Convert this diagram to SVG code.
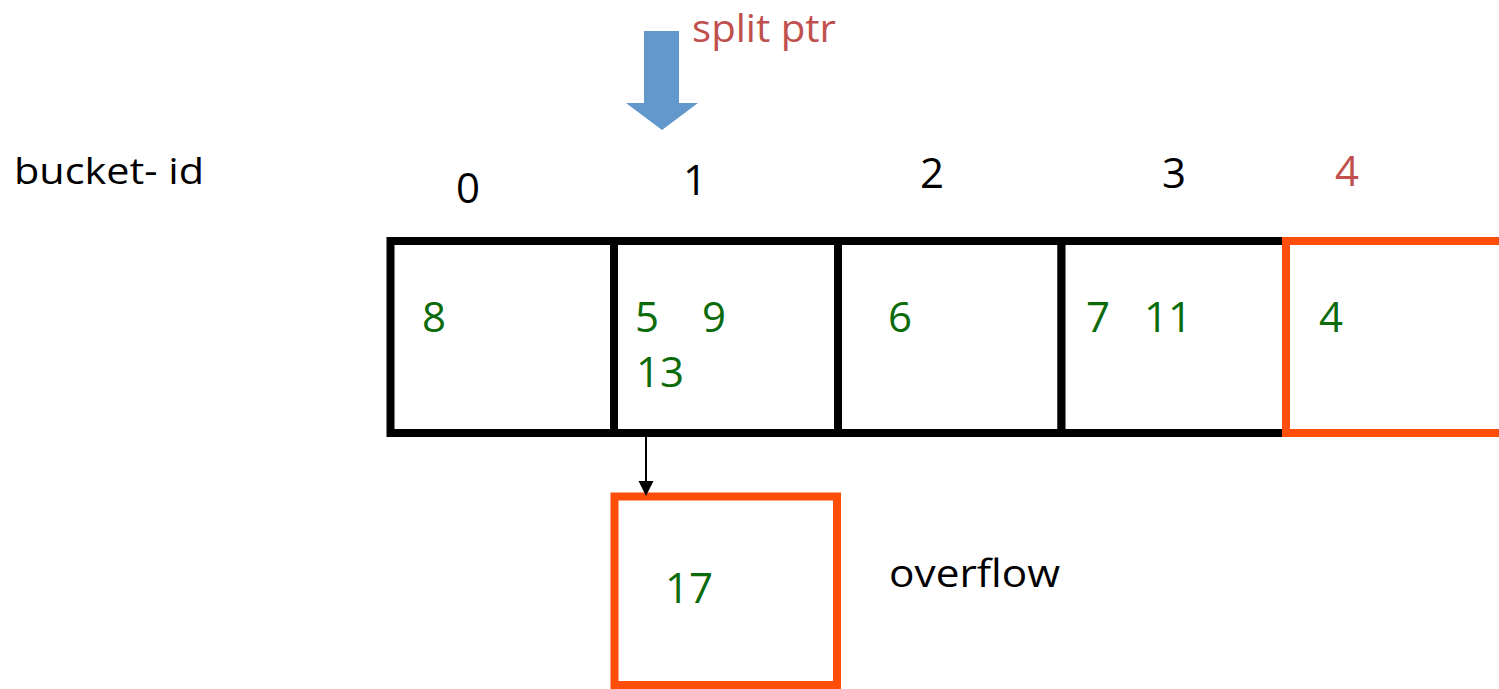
<svg xmlns="http://www.w3.org/2000/svg" width="1499" height="689" viewBox="0 0 1499 689">
<style>
.t{font-family:"Open Sans","Liberation Sans",sans-serif}
.lbl{font-size:42px;fill:#000}
.num{font-size:42px;fill:#0B6B0B}
.cell{fill:#fff;stroke:#000;stroke-width:8}
.ocell{fill:none;stroke:#FF4E0A;stroke-width:8}
</style>
<rect width="1499" height="689" fill="#fff"/>
<g id="split-ptr">
<polygon points="644,31 679,31 679,103 698,103 662,130 626,103 644,103" fill="#6398CC"/>
<text class="t" x="692" y="42" font-size="38" fill="#C0504D" textLength="144" lengthAdjust="spacingAndGlyphs">split ptr</text>
</g>
<g id="bucket-id-label">
<text class="t" x="14" y="184" font-size="36" fill="#000" textLength="190" lengthAdjust="spacingAndGlyphs">bucket- id</text>
</g>
<g id="bucket-0">
<rect class="cell" x="390.5" y="241" width="223.5" height="192"/>
<text class="t lbl" x="456" y="203">0</text>
<text class="t num" x="422" y="332">8</text>
</g>
<g id="bucket-1">
<rect class="cell" x="614" y="241" width="224" height="192"/>
<text class="t lbl" x="683" y="195">1</text>
<text class="t num" x="635" y="332">5</text>
<text class="t num" x="702" y="332">9</text>
<text class="t num" x="636" y="387">13</text>
</g>
<g id="bucket-2">
<rect class="cell" x="838" y="241" width="223.5" height="192"/>
<text class="t lbl" x="920" y="188">2</text>
<text class="t num" x="888" y="332">6</text>
</g>
<g id="bucket-3">
<rect class="cell" x="1061.5" y="241" width="224.5" height="192"/>
<text class="t lbl" x="1162" y="188">3</text>
<text class="t num" x="1086" y="332">7</text>
<text class="t num" x="1144" y="332">11</text>
</g>
<g id="bucket-4">
<rect class="ocell" x="1286" y="241" width="240" height="192"/>
<text class="t lbl" x="1335" y="186" style="fill:#C0504D">4</text>
<text class="t num" x="1319" y="332">4</text>
</g>
<g id="overflow">
<rect class="ocell" x="614.5" y="496.5" width="222.5" height="188.5" style="fill:#fff"/>
<text class="t num" x="665" y="603">17</text>
<text class="t" x="889" y="587" font-size="38" fill="#000" textLength="171" lengthAdjust="spacingAndGlyphs">overflow</text>
</g>
<g id="connectors">
<line x1="646" y1="437" x2="646" y2="482" stroke="#000" stroke-width="2"/>
<polygon points="638.5,481 653.5,481 646,496" fill="#000"/>
</g>
</svg>
